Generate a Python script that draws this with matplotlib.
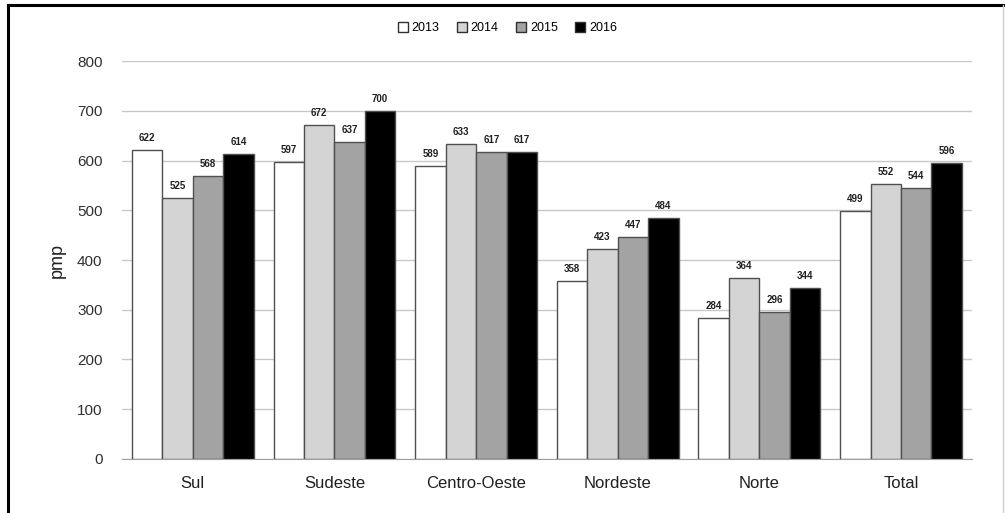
import matplotlib
matplotlib.use("Agg")
import matplotlib.pyplot as plt
import numpy as np

categories = ["Sul", "Sudeste", "Centro-Oeste", "Nordeste", "Norte", "Total"]
years = ["2013", "2014", "2015", "2016"]
v2013 = [622, 597, 589, 358, 284, 499]
v2014 = [525, 672, 633, 423, 364, 552]
v2015 = [568, 637, 617, 447, 296, 544]
v2016 = [614, 700, 617, 484, 344, 596]
series = [v2013, v2014, v2015, v2016]
colors = ["#ffffff", "#d4d4d4", "#a3a3a3", "#000000"]
yticks = [0, 100, 200, 300, 400, 500, 600, 700, 800]

plt.rcParams['font.family'] = ['Liberation Sans Narrow', 'Liberation Sans', 'DejaVu Sans']

fig = plt.figure(figsize=(10.05, 5.13), dpi=100)
ax = fig.add_axes([0.1214, 0.1053, 0.967 - 0.1214, 0.881 - 0.1053])

x = np.arange(len(categories))
w = 0.215
for i, (vals, c) in enumerate(zip(series, colors)):
    pos = x + (i - 1.5) * w
    ax.bar(pos, vals, width=w, color=c, edgecolor="#505050", linewidth=1.0,
           label=years[i], zorder=3)
    for p, v in zip(pos, vals):
        ax.text(p, v + 14, str(v), ha="center", va="bottom", fontsize=7,
                fontweight="bold", color="#202020")

ax.set_xlim(-0.5, 5.5)
ax.set_ylim(0, 800)
ax.set_yticks(yticks)
ax.set_xticks(x)
ax.set_xticklabels(categories, fontsize=12, color="#202020")
ax.tick_params(axis="y", labelsize=11, colors="#303030", length=0, pad=14)
ax.tick_params(axis="x", length=0, pad=12)
ax.yaxis.grid(True, color="#c8c8c8", linewidth=1.0, zorder=0)
ax.set_axisbelow(True)
for s in ["top", "right", "left"]:
    ax.spines[s].set_visible(False)
ax.spines["bottom"].set_color("#a0a0a0")
ax.set_ylabel("pmp", fontsize=13, color="#202020", labelpad=8)

handles, labels = ax.get_legend_handles_labels()
leg = fig.legend(handles, labels, loc="center", bbox_to_anchor=(0.505, 0.945), ncol=4,
                 frameon=False, fontsize=9, handlelength=0.8, handleheight=0.8,
                 columnspacing=1.4, handletextpad=0.3)
for h in leg.legend_handles:
    h.set_edgecolor("#303030")

# figure frame lines
fig.add_artist(plt.Line2D([8/1005, 8/1005], [0, 1 - 5/513], color="black", linewidth=2.2,
                          transform=fig.transFigure))
fig.add_artist(plt.Line2D([8/1005, 1], [1 - 5/513, 1 - 5/513], color="black", linewidth=2.2,
                          transform=fig.transFigure))
fig.add_artist(plt.Line2D([1003/1005, 1003/1005], [0, 1 - 5/513], color="#d0d0d0", linewidth=1,
                          transform=fig.transFigure))

fig.savefig("out.png", dpi=100)
